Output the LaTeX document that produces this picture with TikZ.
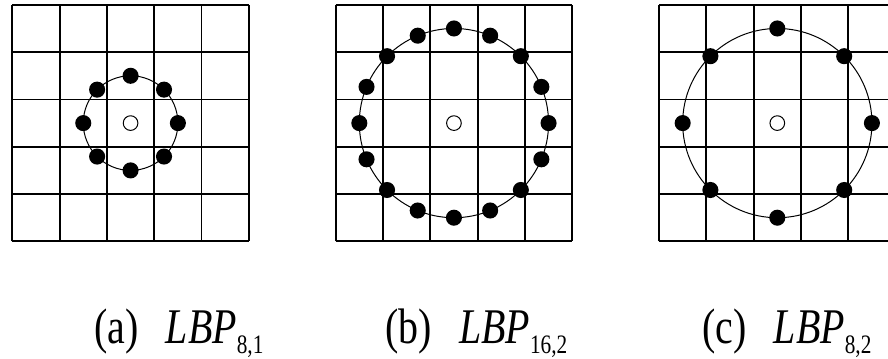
\documentclass[tikz,border=0pt]{standalone}
\usepackage{fontspec}
\setmainfont{Liberation Serif}
\usetikzlibrary{calc}
\newcommand{\lbp}[1]{\textit{LBP}\raisebox{-0.2em}{\fontsize{16}{16}\selectfont #1}}

\begin{document}
\begin{tikzpicture}[
  cellgrid/.style = {line width=1.1pt, black},
  ring/.style     = {line width=0.6pt},
  nbr/.style      = {fill=black},
  ctr/.style      = {draw, line width=0.6pt, fill=white},
  caption/.style  = {anchor=base west, inner sep=0pt,
                     font=\fontsize{30}{31}\selectfont},
]
\useasboundingbox (0,0) rectangle (18.77,7.57);
\clip (0,0) rectangle (18.77,7.57);
% the three 5x5 neighbourhoods
\foreach \cx/\rad/\n in {2.76/1/8, 9.595/2/16, 16.43/2/8} {
  \begin{scope}[shift={(\cx-2.5,2.468)}]
    \draw[cellgrid] (0,0) grid (5,5);
    \draw[ring] (2.5,2.5) circle (\rad);
    \foreach \k in {1,...,\n}
      \fill[nbr] ($(2.5,2.5)+({360*\k/\n}:\rad)$) circle (0.17);
    \draw[ctr] (2.5,2.5) circle (0.155);
  \end{scope}
}
% captions
\node[caption] (capa) at (1.99,0.317)  {\scalebox{0.8}[1]{(a)\hspace{0.68em}\lbp{8,1}}};
\node[caption] (capb) at (8.14,0.317)  {\scalebox{0.8}[1]{(b)\hspace{0.68em}\lbp{16,2}}};
\node[caption] (capc) at (14.84,0.317) {\scalebox{0.8}[1]{(c)\hspace{0.68em}\lbp{8,2}}};
\end{tikzpicture}
\end{document}
